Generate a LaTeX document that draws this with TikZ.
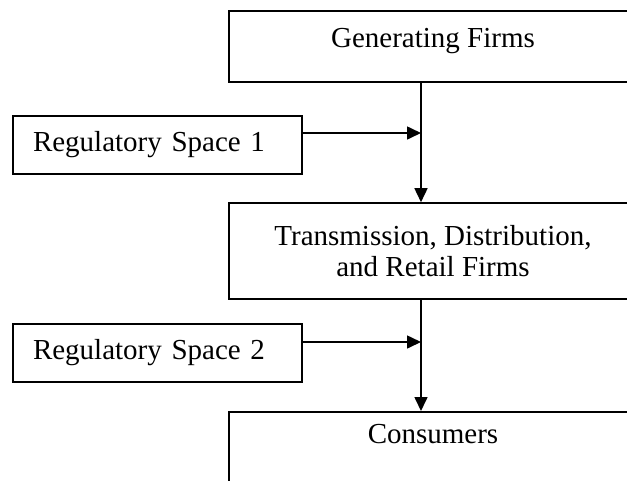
\documentclass[tikz,border=0pt]{standalone}
\usepackage{fontspec}
\setmainfont{Liberation Serif}
\usetikzlibrary{arrows.meta}

\begin{document}
\begin{tikzpicture}[x=1pt, y=-1pt, line width=1.6pt,
	every node/.style={font=\fontsize{29}{31}\selectfont},
	>={Triangle[length=14pt, width=13pt]},
	firmbox/.style={draw, minimum width=408pt, inner sep=0pt, align=center},
	firm/.style={firmbox, minimum height=71pt, text height=0.7em, text depth=0.45em},
	regbox/.style={draw, text width=249pt, inner xsep=20pt, inner ysep=0pt, minimum height=58pt, align=left}]
	\useasboundingbox (0,0) rectangle (627,480);
	\clip (0,0) rectangle (627,480);
	\coordinate (spine) at (421,0);
	\node[firm] (gen) at (433,46.5) {Generating Firms};
	\node[regbox] (reg1) at (157.5,145) {Regulatory Space 1};
	\node[firmbox, minimum height=96pt] (tdr) at (433,251) {Transmission, Distribution,\\and Retail Firms};
	\node[regbox] (reg2) at (157.5,353) {Regulatory Space 2};
	\node[firm, anchor=north, minimum height=90pt, text depth=34pt] (cons) at (433,411) {Consumers};
	\draw[->] (gen.south -| spine) -- (tdr.north -| spine);
	\draw[->] ([yshift=12pt]reg1.east) -- ([yshift=12pt]reg1.east -| spine);
	\draw[->] (tdr.south -| spine) -- (cons.north -| spine);
	\draw[->] ([yshift=11pt]reg2.east) -- ([yshift=11pt]reg2.east -| spine);
\end{tikzpicture}
\end{document}
